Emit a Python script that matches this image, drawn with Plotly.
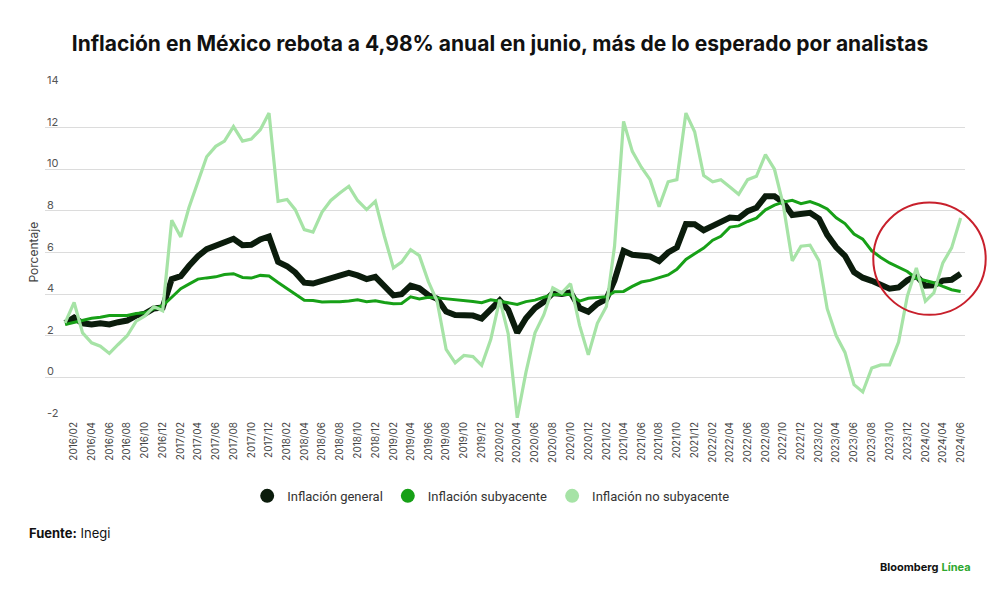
import pandas as pd
import plotly.graph_objects as go

# monthly annual inflation, 2016/01 - 2024/06 (Inegi)
months = pd.date_range("2016-01-01", periods=102, freq="MS")
x_ticks = pd.date_range("2016-02-01", "2024-06-01", freq="2MS")

general = [
    2.61, 2.87, 2.60, 2.54, 2.60, 2.54, 2.65, 2.73, 2.97, 3.06, 3.31, 3.36,
    4.72, 4.86, 5.35, 5.82, 6.16, 6.31, 6.44, 6.66, 6.35, 6.37, 6.63, 6.77,
    5.55, 5.34, 5.04, 4.55, 4.51, 4.65, 4.81, 4.90, 5.02, 4.90, 4.72, 4.83,
    4.37, 3.94, 4.00, 4.41, 4.28, 3.95, 3.78, 3.16, 3.00, 3.02, 2.97, 2.83,
    3.24, 3.70, 3.25, 2.15, 2.84, 3.33, 3.62, 4.05, 4.01, 4.09, 3.33, 3.15,
    3.54, 3.76, 4.67, 6.08, 5.89, 5.88, 5.81, 5.59, 6.00, 6.24, 7.37, 7.36,
    7.07, 7.28, 7.45, 7.68, 7.65, 7.99, 8.15, 8.70, 8.70, 8.41, 7.80, 7.82,
    7.91, 7.62, 6.85, 6.25, 5.84, 5.06, 4.79, 4.64, 4.45, 4.26, 4.32, 4.66,
    4.88, 4.40, 4.42, 4.65, 4.69, 4.98,
]

subyacente = [
    2.54, 2.65, 2.76, 2.84, 2.89, 2.97, 2.97, 2.97, 3.07, 3.10, 3.29, 3.44,
    3.85, 4.26, 4.48, 4.72, 4.78, 4.83, 4.94, 4.98, 4.80, 4.77, 4.90, 4.87,
    4.56, 4.27, 4.02, 3.71, 3.69, 3.62, 3.63, 3.63, 3.67, 3.73, 3.63, 3.68,
    3.60, 3.54, 3.55, 3.87, 3.77, 3.85, 3.82, 3.78, 3.75, 3.68, 3.65, 3.59,
    3.73, 3.66, 3.60, 3.50, 3.64, 3.71, 3.85, 3.97, 3.99, 3.98, 3.66, 3.80,
    3.84, 3.87, 4.12, 4.13, 4.37, 4.58, 4.66, 4.78, 4.92, 5.19, 5.67, 5.94,
    6.21, 6.59, 6.78, 7.22, 7.28, 7.49, 7.65, 8.05, 8.28, 8.42, 8.51, 8.35,
    8.45, 8.29, 8.09, 7.67, 7.39, 6.89, 6.64, 6.08, 5.76, 5.50, 5.30, 5.09,
    4.76, 4.64, 4.55, 4.37, 4.21, 4.13,
]

no_subyacente = [
    2.62, 3.60, 2.14, 1.66, 1.50, 1.15, 1.58, 2.00, 2.70, 2.95, 3.40, 3.20,
    7.55, 6.75, 8.15, 9.40, 10.60, 11.10, 11.35, 12.05, 11.35, 11.45, 11.90, 12.70,
    8.46, 8.55, 8.06, 7.10, 6.98, 7.94, 8.50, 8.86, 9.18, 8.50, 8.06, 8.46,
    6.78, 5.26, 5.54, 6.14, 5.85, 4.60, 3.66, 1.34, 0.70, 1.05, 1.00, 0.58,
    1.82, 3.74, 2.10, -1.94, 0.25, 2.14, 3.00, 4.30, 4.06, 4.50, 2.50, 1.08,
    2.60, 3.40, 6.30, 12.30, 10.86, 10.10, 9.50, 8.20, 9.40, 9.50, 12.70, 11.80,
    9.70, 9.40, 9.50, 9.15, 8.80, 9.50, 9.66, 10.70, 10.00, 8.30, 5.60, 6.30,
    6.35, 5.60, 3.30, 2.00, 1.20, -0.35, -0.70, 0.45, 0.60, 0.60, 1.70, 3.90,
    5.26, 3.66, 4.06, 5.50, 6.22, 7.66,
]

y_ticks = [-2, 0, 2, 4, 6, 8, 10, 12, 14]

names = ["Inflación general", "Inflación subyacente", "Inflación no subyacente"]
colors = ["#0b1c0c", "#17a017", "#a6e3a6"]
widths = [6, 3, 3.2]
series = [general, subyacente, no_subyacente]

fig = go.Figure()

for name, vals, col, w in zip(names, series, colors, widths):
    fig.add_trace(go.Scatter(
        x=months, y=vals, mode="lines", name=name,
        line=dict(color=col, width=w), showlegend=False,
    ))

# round markers for the legend
for name, col in zip(names, colors):
    fig.add_trace(go.Scatter(
        x=[None], y=[None], mode="markers", name=name,
        marker=dict(color=col, size=14),
    ))

fig.update_layout(
    width=1000, height=594,
    margin=dict(l=45, r=35, t=86, b=175),
    paper_bgcolor="white", plot_bgcolor="white",
    font=dict(family="Inter", color="#333"),
    title=dict(
        text="<b>Inflación en México rebota a 4,98% anual en junio, más de lo esperado por analistas</b>",
        x=0.5, xanchor="center", y=0.927, yanchor="middle",
        font=dict(size=21, color="#111"),
    ),
    legend=dict(
        orientation="h", x=0.485, xanchor="center", y=-0.231, yanchor="middle",
        font=dict(family="Roboto", size=13, color="#333"), itemclick=False,
    ),
    showlegend=True,
)

fig.update_xaxes(
    range=["2015-10-24", "2024-06-16"],
    tickvals=x_ticks, tickformat="%Y/%m",
    tickangle=-90, tickfont=dict(size=10, color="#444"),
    showgrid=False, showline=False, zeroline=False, ticks="",
)
fig.update_yaxes(
    range=[-2, 14], tickvals=y_ticks, showticklabels=False,
    gridcolor="#dcdcdc", gridwidth=1, zeroline=False, showline=False,
)

# tick labels sit just above their gridlines, at the left edge
for v in y_ticks:
    fig.add_annotation(
        text=str(v), xref="paper", yref="y", x=0, y=v,
        xanchor="left", yanchor="bottom", yshift=-3, showarrow=False,
        font=dict(size=11, color="#555"),
    )

fig.add_shape(
    type="circle", xref="paper", yref="paper",
    x0=0.9003, x1=1.0225, y0=0.313, y1=0.65,
    line=dict(color="#c8202c", width=2),
)

fig.add_annotation(
    text="Porcentaje", textangle=-90, xref="paper", yref="paper",
    x=-0.013, xanchor="center", y=0.5, showarrow=False,
    font=dict(size=12, color="#444"),
)
fig.add_annotation(
    text="<b>Fuente:</b> Inegi", xref="paper", yref="paper",
    x=-0.0196, xanchor="left", y=-0.342, yanchor="middle",
    showarrow=False, font=dict(size=13, color="#111"),
)
fig.add_annotation(
    text="<b>Bloomberg</b> <b><span style='color:#2fa82f'>Línea</span></b>",
    xref="paper", yref="paper", x=1.0087, xanchor="right", y=-0.444, yanchor="middle",
    showarrow=False, font=dict(size=11, color="#111"),
)

fig.write_html(
    "out.html",
    config={"displayModeBar": False},
    post_script="document.body.style.margin='0';",
)
